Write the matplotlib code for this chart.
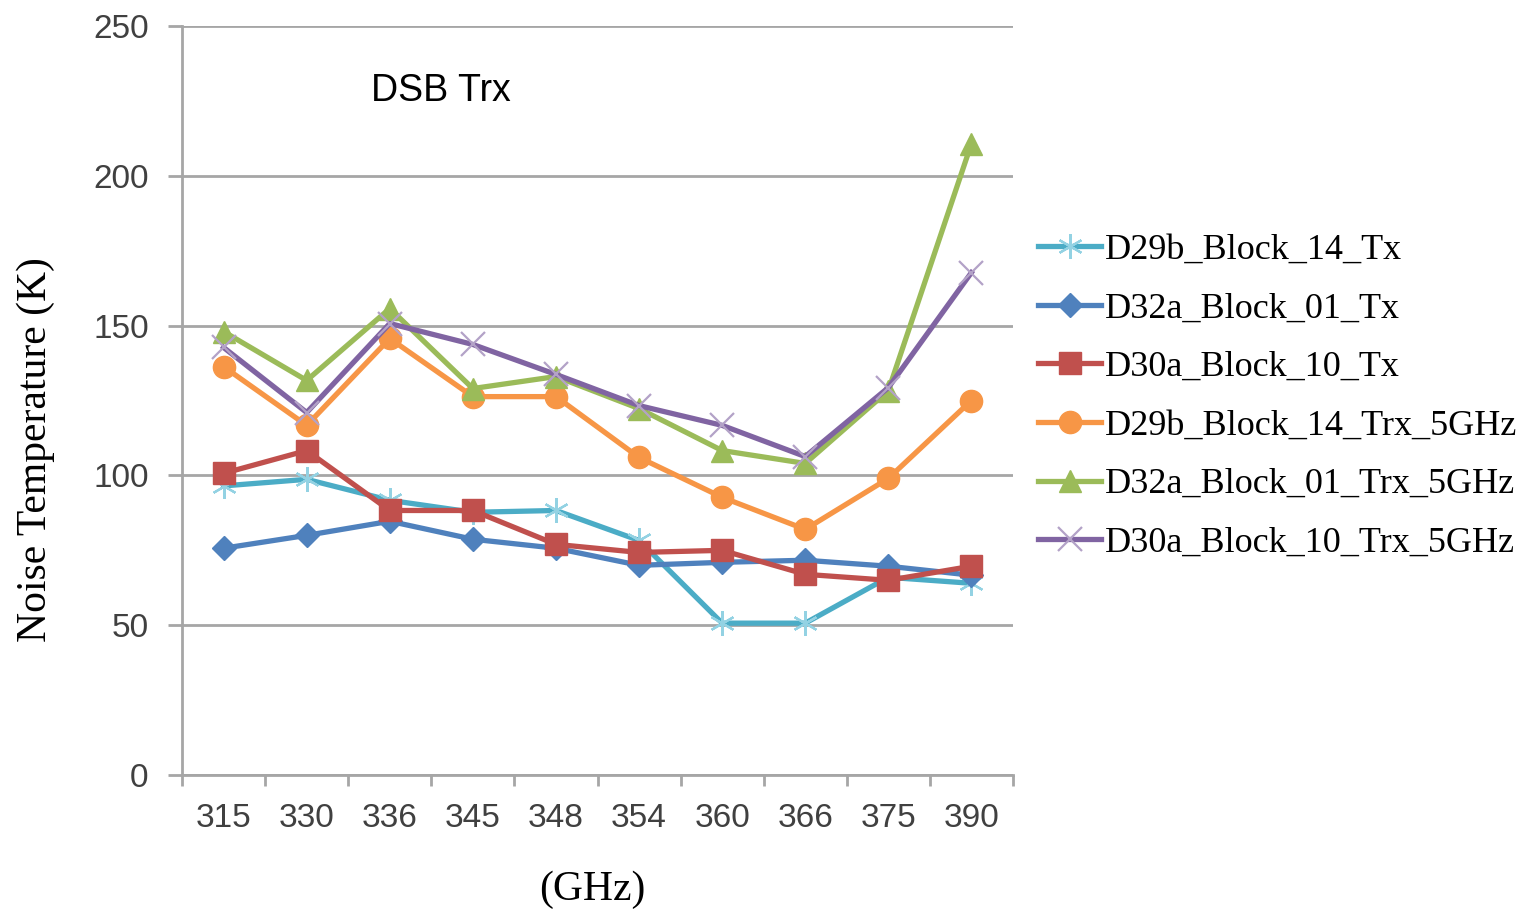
import numpy as np
import matplotlib
matplotlib.use("Agg")
import matplotlib.pyplot as plt

freqs = ["315", "330", "336", "345", "348", "354", "360", "366", "375", "390"]

d29b_tx = [96.5, 98.7, 91.7, 87.7, 88.3, 78.3, 50.7, 50.7, 66, 64]
d32a_tx = [75.7, 80, 84.7, 78.7, 75.7, 70, 71, 71.7, 69.7, 66.7]
d30a_tx = [100.7, 108.3, 88.3, 88.3, 77, 74.3, 75, 67, 65, 69.7]
d29b_trx = [136.3, 116.7, 145.7, 126.3, 126.3, 106, 92.7, 82, 99, 125]
d32a_trx = [148, 131.7, 155.7, 129, 133, 122.3, 108.3, 104, 128.3, 210.7]
d30a_trx = [142.7, 121, 150.7, 143.7, 133.7, 123.3, 116.7, 106.3, 129.3, 167.7]

labels = ["D29b_Block_14_Tx", "D32a_Block_01_Tx", "D30a_Block_10_Tx",
          "D29b_Block_14_Trx_5GHz", "D32a_Block_01_Trx_5GHz", "D30a_Block_10_Trx_5GHz"]

fig = plt.figure(figsize=(15.26, 9.14), dpi=100)
ax = fig.add_axes([0.1193, 0.152, 0.5445, 0.8196])

x = np.arange(len(freqs))
lw = 3.8
ax.plot(x, d29b_tx, color="#4BACC6", lw=lw, marker=(6, 2, 0), ms=18, mew=1.6,
        mec="#93D2E3", label=labels[0], zorder=3)
ax.plot(x, d32a_tx, color="#4F81BD", lw=lw, marker="D", ms=12, label=labels[1], zorder=3)
ax.plot(x, d30a_tx, color="#C0504D", lw=lw, marker="s", ms=16, label=labels[2], zorder=3)
ax.plot(x, d29b_trx, color="#F79646", lw=lw, marker="o", ms=16, label=labels[3], zorder=3)
ax.plot(x, d32a_trx, color="#9BBB59", lw=lw, marker="^", ms=16, label=labels[4], zorder=3)
ax.plot(x, d30a_trx, color="#8064A2", lw=lw, marker="x", ms=17, mew=1.6,
        mec="#B3A2C7", label=labels[5], zorder=3)

ax.set_xlim(-0.5, 9.5)
ax.set_ylim(0, 250)
ax.set_yticks(range(0, 251, 50))
ax.set_xticks(x)
ax.set_xticklabels(freqs)
ax.set_xticks(np.arange(-0.5, 10, 1), minor=True)
ax.tick_params(axis="x", which="major", length=0, pad=20, labelsize=24, labelcolor="#404040")
ax.tick_params(axis="x", which="minor", length=8, width=2, color="#A6A6A6", direction="out")
ax.tick_params(axis="y", length=10, width=2, color="#A6A6A6", pad=14, labelsize=24,
               labelcolor="#404040")
for lab in ax.get_xticklabels() + ax.get_yticklabels():
    lab.set_family("Liberation Sans")

ax.grid(axis="y", color="#A6A6A6", lw=2)
ax.set_axisbelow(True)
for s in ["top", "right"]:
    ax.spines[s].set_visible(False)
for s in ["left", "bottom"]:
    ax.spines[s].set_color("#A6A6A6")
    ax.spines[s].set_linewidth(2)

ax.set_ylabel("Noise Temperature (K)", family="Liberation Serif", fontsize=30)
ax.yaxis.set_label_coords(-0.153, 0.434)
fig.text(0.388, 0.026, "(GHz)", family="Liberation Serif", fontsize=30, ha="center", va="center")
ax.text(2.62, 228.3, "DSB Trx", family="Liberation Sans", fontsize=27, ha="center", va="center")

fig.legend(loc="center left", bbox_to_anchor=(0.6589, 0.566), frameon=False,
           prop={"family": "Liberation Serif", "size": 26}, handlelength=1.75,
           handletextpad=0.1, labelspacing=0.7)

fig.savefig("out.png", dpi=100)
